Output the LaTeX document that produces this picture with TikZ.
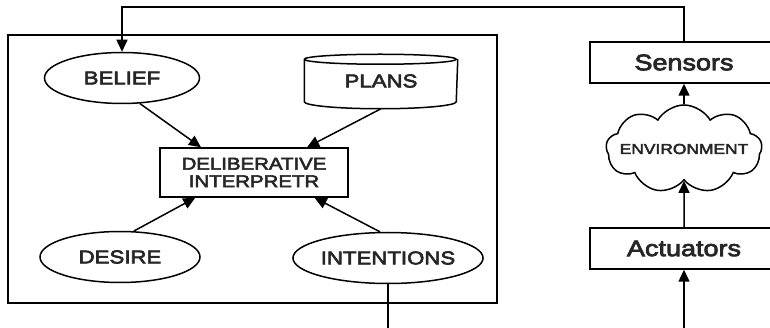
\documentclass[tikz,border=0pt]{standalone}
\usepackage{fontspec}
\setmainfont[FakeStretch=1.2,FakeBold=3.4]{Liberation Sans}
\usetikzlibrary{shapes.geometric,shapes.symbols,arrows.meta,calc}
\begin{document}
\begin{tikzpicture}[x=1pt,y=-1pt,line width=1.5pt,
  arr/.style={-{Triangle[length=12pt,width=11pt]}},
  oval/.style={ellipse,draw,inner sep=0pt,minimum height=51pt,
    font=\fontsize{18.5}{20}\selectfont},
  box/.style={rectangle,draw,inner sep=0pt,minimum height=41pt,
    font=\fontsize{22.5}{24}\selectfont},
  ink/.style={text=black!85}]
\useasboundingbox (0,0) rectangle (770,328);
\clip (0,0) rectangle (770,328);
\fill[white] (0,0) rectangle (770,328);

% agent frame
\draw (8,35) rectangle (497,303);

% BDI components
\node[oval,ink,minimum width=155pt] (belief) at (122,78) {BELIEF};
\node[oval,ink,minimum width=160pt] (desire) at (120,257) {DESIRE};
\node[oval,ink,minimum width=162pt] (intentions) at (388,258) {INTENTIONS};

% plan library drawn as a cylinder
\node[ink,font=\fontsize{18.5}{20}\selectfont,minimum width=152pt,minimum height=52pt,inner sep=0pt] (plans) at (381,81) {\raisebox{-7pt}{PLANS}};
\draw ($(plans.north west)+(0,5)$) arc[start angle=180,end angle=-180,x radius=76pt,y radius=5pt];
\draw ($(plans.north west)+(0,5)$) -- ($(plans.south west)+(0,-6)$)
  arc[start angle=180,end angle=360,x radius=76pt,y radius=7pt]
  -- ($(plans.north east)+(0,5)$);

\node[box,ink,minimum width=188pt,minimum height=49pt,align=center,
  font=\fontsize{17}{18.5}\selectfont] (interp) at (254,172.5)
  {DELIBERATIVE\\[-1pt]INTERPRETR};

% environment side
\node[box,ink,minimum width=188pt] (sensors) at (684,62.5) {Sensors};
\node[box,ink,minimum width=188pt] (actuators) at (684,248.5) {Actuators};
\node[cloud,draw,cloud puffs=9,cloud puff arc=120,aspect=1.8,
  minimum width=156pt,minimum height=88pt,inner sep=0pt] (env) at (684,149) {};
\node[ink,font=\fontsize{14.5}{16}\selectfont] (envtext) at (env.center) {ENVIRONMENT};

% internal flows
\draw[arr] (belief.-55) -- ($(interp.north west)!0.22!(interp.north east)$);
\draw[arr] ($(plans.south)+(0,1)$) -- ($(interp.north west)!0.78!(interp.north east)$);
\draw[arr] (desire.62) -- ($(interp.south west)!0.19!(interp.south east)$);
\draw[arr] (intentions.107) -- ($(interp.south west)!0.82!(interp.south east)$);

% perception and action loop
\draw[arr] (env.north) -- (sensors.south);
\draw[arr] (actuators.north) -- (env.south);
\draw[arr] (sensors.north) |- (122,7) -- (belief.north);
\draw[arr] (intentions.south) -- (388,345) -| (actuators.south);
\end{tikzpicture}
\end{document}
